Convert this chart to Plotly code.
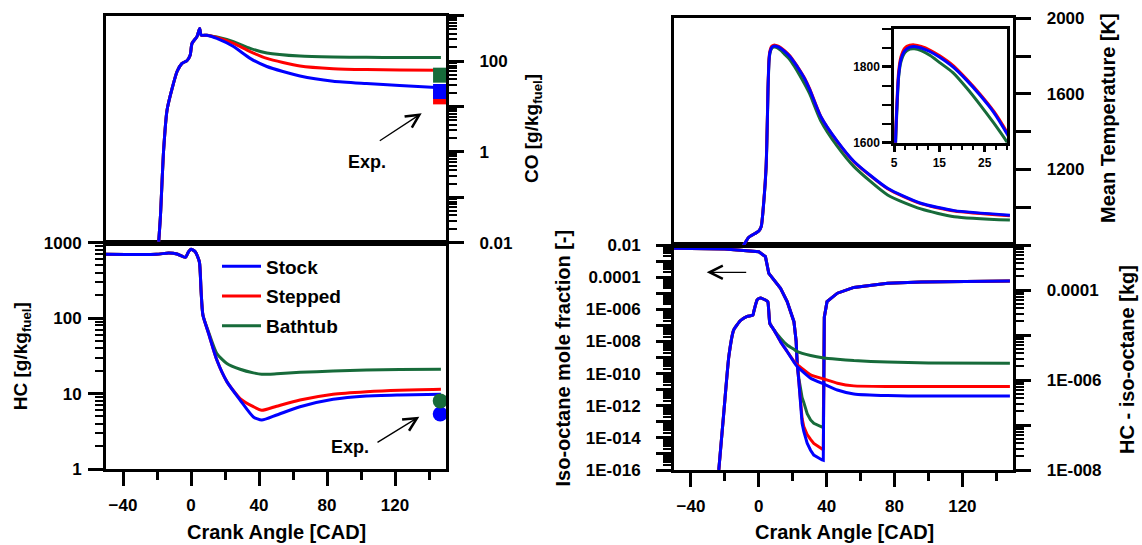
import plotly.graph_objects as go

W, H = 1142, 545
BLUE = "#0000FF"
RED = "#FF0000"
GREEN = "#176B3A"
FONT = "Liberation Sans, Arial, sans-serif"

# ---------------- data ----------------
series_names = ["Stock", "Stepped", "Bathtub"]

# CO [g/kg fuel] (top-left, log)
co_cad = [-19, -18, -16.1, -14.1, -11.1, -8.2, -5.3, -2.4, -0.5, 0.6, 3.5, 5.1, 6.0, 9.3,
          15.2, 25, 34.8, 44.6, 64.1, 83.6, 103.2, 122.7, 147]
co_stock = [0.0105, 0.037, 1.1, 8.3, 25, 59, 89, 102, 135, 245, 347, 525, 372, 372,
            316, 209, 115, 76, 47, 36, 32, 29, 26]
co_stepped = [0.0105, 0.037, 1.1, 8.3, 25, 59, 89, 102, 135, 245, 347, 525, 372, 372,
              331, 245, 162, 115, 78, 68, 65, 64, 63]
co_bathtub = [0.0105, 0.037, 1.1, 8.3, 25, 59, 89, 102, 135, 245, 347, 525, 372, 372,
              339, 269, 191, 151, 129, 123, 121, 120, 120]
co_exp_cad = [146.8]
co_exp_stock = [21.4]
co_exp_stepped = [16.3]
co_exp_bathtub = [49]

# HC [g/kg fuel] (bottom-left, log)
hc_cad = [-50, -20.4, -13.1, -8.2, -3.3, -1.4, 0, 2.5, 4.9, 5.9, 7.0, 10.3, 15.2, 21.1,
          28.9, 36.7, 41.6, 50.4, 64.1, 83.6, 103.2, 122.7, 147]
hc_stock = [702, 702, 730, 708, 640, 760, 817, 760, 560, 236, 110, 63, 27.8, 14.4,
            8.2, 4.9, 4.45, 5.2, 6.7, 8.4, 9.3, 9.6, 9.8]
hc_stepped = [702, 702, 730, 708, 640, 760, 817, 760, 560, 236, 110, 63, 27.8, 14.4,
              8.6, 6.7, 6.0, 6.8, 8.2, 9.8, 10.6, 11.1, 11.4]
hc_bathtub = [702, 702, 730, 708, 640, 760, 817, 760, 560, 236, 110, 66, 34, 25,
              21, 18.8, 18, 18.3, 19.1, 19.9, 20.5, 20.8, 21]
hc_exp_cad = [146.6]
hc_exp_stock = [5.35]
hc_exp_bathtub = [8.0]

# Mean temperature [K] (top-right, linear) - also used in the inset
t_cad = [-9.2, -5.9, -2, 0, 1.4, 3, 4.3, 5.0, 5.4, 5.7, 6.0, 6.5, 7.4, 8.5, 9.5, 11, 13, 15,
         18, 21, 24, 27, 30, 36.5, 46.3, 56.1, 75.9, 95.5, 115.2, 148]
t_stock = [795, 841, 862, 874, 897, 1038, 1215, 1450, 1625, 1712, 1775, 1818, 1843, 1852,
           1854, 1850, 1840, 1826, 1800, 1765, 1725, 1680, 1622, 1480, 1348, 1242, 1100,
           1021, 982, 958]
t_stepped = [795, 841, 862, 874, 897, 1040, 1220, 1460, 1634, 1720, 1785, 1825, 1850, 1857,
             1858, 1854, 1844, 1830, 1804, 1768, 1728, 1683, 1626, 1481, 1347, 1240, 1098,
             1019, 980, 955]
t_bathtub = [795, 841, 862, 874, 897, 1035, 1210, 1440, 1616, 1700, 1770, 1812, 1838, 1847,
             1848, 1843, 1830, 1812, 1785, 1745, 1700, 1652, 1600, 1458, 1322, 1215, 1065,
             991, 950, 932]

# Iso-octane mole fraction [-] (bottom-right, left log axis)
a_cad = [-50, -20, 0, 3.9, 5.9, 7.3, 12.8, 16.7, 20.7, 22.0, 22.6, 23.6, 24.5, 25.5, 26.5,
         28.5, 30.5, 32.4, 37.3, 38.0, 38.6, 40.2, 46.3, 56, 75.9, 95.6, 148]
a_stock = [6.3e-3, 5.6e-3, 3.8e-3, 1.9e-3, 1.7e-4, 1.1e-4, 2.0e-5, 3.0e-6, 1.7e-7, 1e-8,
           4.5e-10, 3.2e-11, 1e-12, 8e-14, 2.5e-14, 4.6e-15, 1.7e-15, 8.5e-16, 4.2e-16, 4e-16,
           3.2e-7, 3.0e-6, 1e-5, 2.3e-5, 4.2e-5, 5.0e-5, 5.8e-5]
a_stepped = [6.3e-3, 5.6e-3, 3.8e-3, 1.9e-3, 1.7e-4, 1.1e-4, 2.0e-5, 3.0e-6, 1.7e-7, 1e-8,
             4.5e-10, 3.2e-11, 1.6e-12, 1.6e-13, 5e-14, 1.6e-14, 8e-15, 4.5e-15, 2e-15, 1.8e-15,
             3.2e-7, 3.0e-6, 1e-5, 2.3e-5, 4.2e-5, 5.0e-5, 5.8e-5]
a_bathtub = [6.3e-3, 5.6e-3, 3.8e-3, 1.9e-3, 1.7e-4, 1.1e-4, 2.0e-5, 3.0e-6, 1.7e-7, 1e-8,
             4.5e-10, 5e-11, 1e-11, 3.2e-12, 1.6e-12, 3.2e-13, 1.3e-13, 8e-14, 4.7e-14, 4.5e-14,
             3.2e-7, 3.0e-6, 1e-5, 2.3e-5, 4.2e-5, 5.0e-5, 5.8e-5]

# HC - iso-octane [kg] (bottom-right, right log axis)
b_cad = [-23.6, -20.7, -17.7, -14.8, -10.8, -6.9, -3.5, -3, -1, 0.6, 3.9, 5.3, 6.5, 8.9,
         12.8, 16.7, 20.7, 22.6, 30.5, 38.4, 46.3, 56, 75.9, 100, 148]
b_stock = [1e-8, 1.8e-7, 3.3e-6, 1.3e-5, 2.1e-5, 2.6e-5, 2.75e-5, 3.3e-5, 6.0e-5, 6.6e-5,
           6.0e-5, 5.5e-5, 1.8e-5, 1.3e-5, 7.1e-6, 4.3e-6, 2.5e-6, 2.0e-6, 1.1e-6, 8.1e-7,
           6.0e-7, 4.9e-7, 4.5e-7, 4.4e-7, 4.4e-7]
b_stepped = [1e-8, 1.8e-7, 3.3e-6, 1.3e-5, 2.1e-5, 2.6e-5, 2.75e-5, 3.3e-5, 6.0e-5, 6.6e-5,
             6.0e-5, 5.5e-5, 1.8e-5, 1.3e-5, 7.1e-6, 4.3e-6, 2.6e-6, 2.2e-6, 1.3e-6, 1.05e-6,
             8.5e-7, 7.4e-7, 7.2e-7, 7.2e-7, 7.2e-7]
b_bathtub = [1e-8, 1.8e-7, 3.3e-6, 1.3e-5, 2.1e-5, 2.6e-5, 2.75e-5, 3.3e-5, 6.0e-5, 6.6e-5,
             6.0e-5, 5.5e-5, 1.8e-5, 1.3e-5, 8.5e-6, 6.0e-6, 4.8e-6, 4.3e-6, 3.5e-6, 3.1e-6,
             2.9e-6, 2.7e-6, 2.5e-6, 2.4e-6, 2.35e-6]

# tick labels
x_ticks = [-40, 0, 40, 80, 120]
hc_ticks = [1, 10, 100, 1000]
co_ticks = [0.01, 0.1, 1, 10, 100, 1000]
co_ticktext = ["0.01", "", "1", "", "100", ""]
temp_ticks = [1200, 1600, 2000]
mf_ticks = [1e-16, 1e-15, 1e-14, 1e-13, 1e-12, 1e-11, 1e-10, 1e-9, 1e-8, 1e-7,
            1e-6, 1e-5, 1e-4, 1e-3, 1e-2]
mf_ticktext = ["1E-016", "", "1E-014", "", "1E-012", "", "1E-010", "", "1E-008", "",
               "1E-006", "", "0.0001", "", "0.01"]
kg_ticks = [1e-8, 1e-7, 1e-6, 1e-5, 1e-4, 1e-3]
kg_ticktext = ["1E-008", "", "1E-006", "", "0.0001", ""]
inset_xticks = [5, 15, 25]
inset_yticks = [1600, 1800]

# ---------------- layout helpers ----------------
def fx(px):
    return px / W


def fy(py):
    return 1 - py / H


LX = [fx(106), fx(446)]
LY_TOP = [fy(242.7), fy(15.7)]
LY_BOT = [fy(469), fy(242.7)]
RX = [fx(674), fx(1013.3)]
RY_TOP = [fy(245), fy(18.3)]
RY_BOT = [fy(470), fy(245)]
IX = [fx(894), fx(1007.3)]
IY = [fy(142.7), fy(29)]

colors = {"Stock": BLUE, "Stepped": RED, "Bathtub": GREEN}
LW = 3

fig = go.Figure()

co_data = {"Stock": co_stock, "Stepped": co_stepped, "Bathtub": co_bathtub}
hc_data = {"Stock": hc_stock, "Stepped": hc_stepped, "Bathtub": hc_bathtub}
t_data = {"Stock": t_stock, "Stepped": t_stepped, "Bathtub": t_bathtub}
a_data = {"Stock": a_stock, "Stepped": a_stepped, "Bathtub": a_bathtub}
b_data = {"Stock": b_stock, "Stepped": b_stepped, "Bathtub": b_bathtub}
rank = {"Stock": 1, "Stepped": 2, "Bathtub": 3}
smooth = dict(shape="spline", smoothing=0.6)

for name in ["Bathtub", "Stepped", "Stock"]:
    c = colors[name]
    fig.add_trace(go.Scatter(x=hc_cad, y=hc_data[name], mode="lines", name=name,
                             line=dict(color=c, width=LW, **smooth), xaxis="x", yaxis="y",
                             legendgroup=name, legendrank=rank[name], showlegend=True))
    fig.add_trace(go.Scatter(x=co_cad, y=co_data[name], mode="lines", name=name,
                             line=dict(color=c, width=LW, **smooth), xaxis="x2", yaxis="y2",
                             showlegend=False))
    fig.add_trace(go.Scatter(x=t_cad, y=t_data[name], mode="lines", name=name,
                             line=dict(color=c, width=LW, **smooth), xaxis="x4", yaxis="y4",
                             showlegend=False))
    fig.add_trace(go.Scatter(x=t_cad, y=t_data[name], mode="lines", name=name,
                             line=dict(color=c, width=LW, **smooth), xaxis="x6", yaxis="y6",
                             showlegend=False))
    fig.add_trace(go.Scatter(x=b_cad, y=b_data[name], mode="lines", name=name,
                             line=dict(color=c, width=LW, shape="spline", smoothing=0.4),
                             xaxis="x3", yaxis="y5", showlegend=False))
    fig.add_trace(go.Scatter(x=a_cad, y=a_data[name], mode="lines", name=name,
                             line=dict(color=c, width=LW), xaxis="x3", yaxis="y3",
                             showlegend=False))

# experimental markers
for vals, c in [(co_exp_stepped, RED), (co_exp_stock, BLUE), (co_exp_bathtub, GREEN)]:
    fig.add_trace(go.Scatter(x=co_exp_cad, y=vals, mode="markers", xaxis="x2", yaxis="y2",
                             marker=dict(symbol="square", size=15, color=c), showlegend=False,
                             cliponaxis=False))
for vals, c in [(hc_exp_stock, BLUE), (hc_exp_bathtub, GREEN)]:
    fig.add_trace(go.Scatter(x=hc_exp_cad, y=vals, mode="markers", xaxis="x", yaxis="y",
                             marker=dict(symbol="circle", size=15, color=c), showlegend=False,
                             cliponaxis=False))

tickfont = dict(family=FONT, size=17, color="black", weight="bold")
common = dict(showgrid=False, zeroline=False, showline=True, linewidth=3, linecolor="black",
              tickcolor="black", tickwidth=2.5, tickfont=tickfont, automargin=False)

xbottom = dict(common, range=[-50, 150], tickvals=x_ticks, ticks="outside", ticklen=14,
               mirror=True, ticklabelstandoff=5,
               minor=dict(tickvals=[-20, 20, 60, 100, 140], ticks="outside", ticklen=8,
                          tickwidth=2.5, tickcolor="black"))
xtop = dict(common, range=[-50, 150], showticklabels=False, ticks="", mirror=True)

logminor = dict(dtick="D1", ticks="outside", ticklen=8, tickwidth=2, tickcolor="black")

fig.update_layout(
    template="none",
    width=W, height=H,
    margin=dict(l=0, r=0, t=0, b=0, autoexpand=False),
    paper_bgcolor="white", plot_bgcolor="white",
    font=dict(family=FONT, color="black", weight="bold"),
    xaxis=dict(xbottom, domain=LX, anchor="y"),
    yaxis=dict(common, domain=LY_BOT, anchor="x", type="log", range=[0, 3], tickvals=hc_ticks,
               ticktext=["1", "10", "100", "1000"], ticks="outside", ticklen=15, mirror=True,
               ticklabelstandoff=3, minor=logminor),
    xaxis2=dict(xtop, domain=LX, anchor="y2"),
    yaxis2=dict(common, domain=LY_TOP, anchor="x2", side="right", type="log", range=[-2, 3],
                tickvals=co_ticks, ticktext=co_ticktext, ticks="outside", ticklen=15,
                mirror=True, ticklabelstandoff=12, minor=logminor),
    xaxis3=dict(xbottom, domain=RX, anchor="y3"),
    yaxis3=dict(common, domain=RY_BOT, anchor="x3", type="log", range=[-16, -2],
                tickvals=mf_ticks, ticktext=mf_ticktext, ticks="outside", ticklen=15,
                mirror=True, ticklabelstandoff=12, minor=logminor),
    yaxis5=dict(common, overlaying="y3", anchor="x3", side="right", type="log", range=[-8, -3],
                tickvals=kg_ticks, ticktext=kg_ticktext, ticks="outside", ticklen=15,
                ticklabelstandoff=12, minor=logminor),
    xaxis4=dict(xtop, domain=RX, anchor="y4"),
    yaxis4=dict(common, domain=RY_TOP, anchor="x4", side="right", range=[800, 2000],
                tickvals=temp_ticks, ticks="outside", ticklen=15, mirror=True,
                ticklabelstandoff=12,
                minor=dict(tickvals=[1000, 1400, 1800], ticks="outside", ticklen=15,
                           tickwidth=2.5, tickcolor="black")),
    xaxis6=dict(common, domain=IX, anchor="y6", range=[5, 30], tickvals=inset_xticks,
                ticks="outside", ticklen=7, mirror=True, linewidth=2.5,
                tickfont=dict(family=FONT, size=12, color="black", weight="bold"),
                minor=dict(dtick=2.5, tick0=5, ticks="outside", ticklen=5, tickwidth=2,
                           tickcolor="black")),
    yaxis6=dict(common, domain=IY, anchor="x6", range=[1600, 1900], tickvals=inset_yticks,
                ticks="outside", ticklen=9, mirror=True, linewidth=2.5,
                tickfont=dict(family=FONT, size=12, color="black", weight="bold"),
                minor=dict(dtick=50, tick0=1600, ticks="outside", ticklen=9, tickwidth=2,
                           tickcolor="black")),
    legend=dict(x=fx(217), y=fy(247.5), xanchor="left", yanchor="top", traceorder="grouped",
                tracegroupgap=2, itemwidth=39, bgcolor="rgba(0,0,0,0)",
                font=dict(family=FONT, size=19, color="black", weight="bold")),
)

annos = [
    dict(text="HC [g/kg<sub>fuel</sub>]", x=fx(21.7), y=fy(356.5), textangle=-90, size=19),
    dict(text="CO [g/kg<sub>fuel</sub>]", x=fx(533), y=fy(129), textangle=-90, size=19),
    dict(text="Crank Angle [CAD]", x=fx(276), y=fy(531.5), textangle=0, size=20),
    dict(text="Crank Angle [CAD]", x=fx(844), y=fy(532), textangle=0, size=20),
    dict(text="Iso-octane mole fraction [-]", x=fx(562.5), y=fy(358), textangle=-90, size=20),
    dict(text="Mean Temperature [K]", x=fx(1108), y=fy(118), textangle=-90, size=20),
    dict(text="HC - iso-octane [kg]", x=fx(1127), y=fy(360), textangle=-90, size=20),
    dict(text="Exp.", x=fx(366.7), y=fy(161.7), textangle=0, size=18),
    dict(text="Exp.", x=fx(350), y=fy(447.3), textangle=0, size=18),
]
ann_list = []
for a in annos:
    a = dict(a)
    size = a.pop("size")
    ann_list.append(dict(a, xref="paper", yref="paper", xanchor="center", yanchor="middle",
                         showarrow=False,
                         font=dict(family=FONT, size=size, color="black", weight="bold")))

arrows = [((421.7, 113.3), (378.3, 141.7)), ((419.3, 416.7), (376, 443.3)),
          ((706.7, 272.3), (747.7, 272.3))]
for (hx, hy), (tx, ty) in arrows:
    ann_list.append(dict(text="", x=fx(hx), y=fy(hy), xref="paper", yref="paper",
                         showarrow=True, ax=tx - hx, ay=ty - hy, arrowhead=5, arrowsize=2,
                         arrowwidth=1.3, arrowcolor="black"))
fig.update_layout(annotations=ann_list)

fig.write_html("out.html", config={"displayModeBar": False},
               post_script="document.body.style.margin='0';document.body.style.overflow='hidden';")
